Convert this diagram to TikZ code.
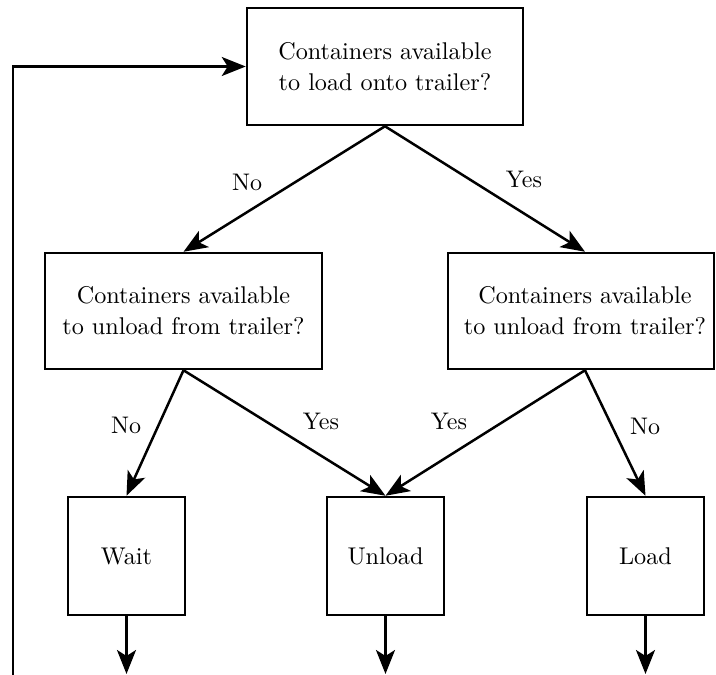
\documentclass[tikz,border=0pt]{standalone}
\usepackage{fontspec}
\newfontfamily\boxfont{lmroman10-regular.otf}
\usetikzlibrary{arrows.meta}
\begin{document}
\begin{tikzpicture}[x=1pt,y=-1pt,
  box/.style={draw, line width=2.5pt, rectangle, inner sep=0pt, align=center,
    font=\boxfont\fontsize{24.2}{31}\selectfont},
  flow/.style={line width=2.5pt, -{Stealth[length=24pt,width=19pt,inset=6pt]}},
  answer/.style={font=\boxfont\fontsize{24}{28}\selectfont, inner sep=0pt}]
  \useasboundingbox (0,0) rectangle (716,675);

  % decision boxes
  \node[box, minimum width=276pt, minimum height=117pt] (tq) at (385,66.5)
    {Containers available\\to load onto trailer?};
  \node[box, minimum width=277pt, minimum height=116pt] (lq) at (183.5,311)
    {Containers available\\to unload from trailer?};
  \node[box, minimum width=266pt, minimum height=116pt] (rq) at (581,311)
    {\hspace*{8pt}Containers available\\\hspace*{8pt}to unload from trailer?};

  % action boxes
  \node[box, minimum width=117pt, minimum height=118pt] (wait) at (126.5,556) {Wait};
  \node[box, minimum width=117pt, minimum height=118pt] (unload) at (385.5,556) {Unload};
  \node[box, minimum width=117pt, minimum height=118pt] (load) at (645.5,556) {Load};

  % loose ends at the bottom edge
  \coordinate (loopstart) at (13,675);
  \coordinate (waitout) at (126.5,674);
  \coordinate (unloadout) at (385.5,674);
  \coordinate (loadout) at (645.5,674);

  % branches
  \draw[flow] (tq.south) -- (lq.north);
  \draw[flow] (tq.south) -- ([xshift=4pt]rq.north);
  \draw[flow] (lq.south) -- (wait.north);
  \draw[flow] (lq.south) -- (unload.north);
  \draw[flow] ([xshift=4pt]rq.south) -- (unload.north);
  \draw[flow] ([xshift=4pt]rq.south) -- (load.north);

  % outputs and return loop
  \draw[flow] (wait.south) -- (waitout);
  \draw[flow] (unload.south) -- (unloadout);
  \draw[flow] (load.south) -- (loadout);
  \draw[flow] (loopstart) |- (tq.west);

  % branch answers
  \node[answer] (a1) at (247,182) {No};
  \node[answer] (a2) at (524,179) {Yes};
  \node[answer] (a3) at (126,425) {No};
  \node[answer] (a4) at (321,421) {Yes};
  \node[answer] (a5) at (449,421) {Yes};
  \node[answer] (a6) at (645,426) {No};
\end{tikzpicture}
\end{document}
